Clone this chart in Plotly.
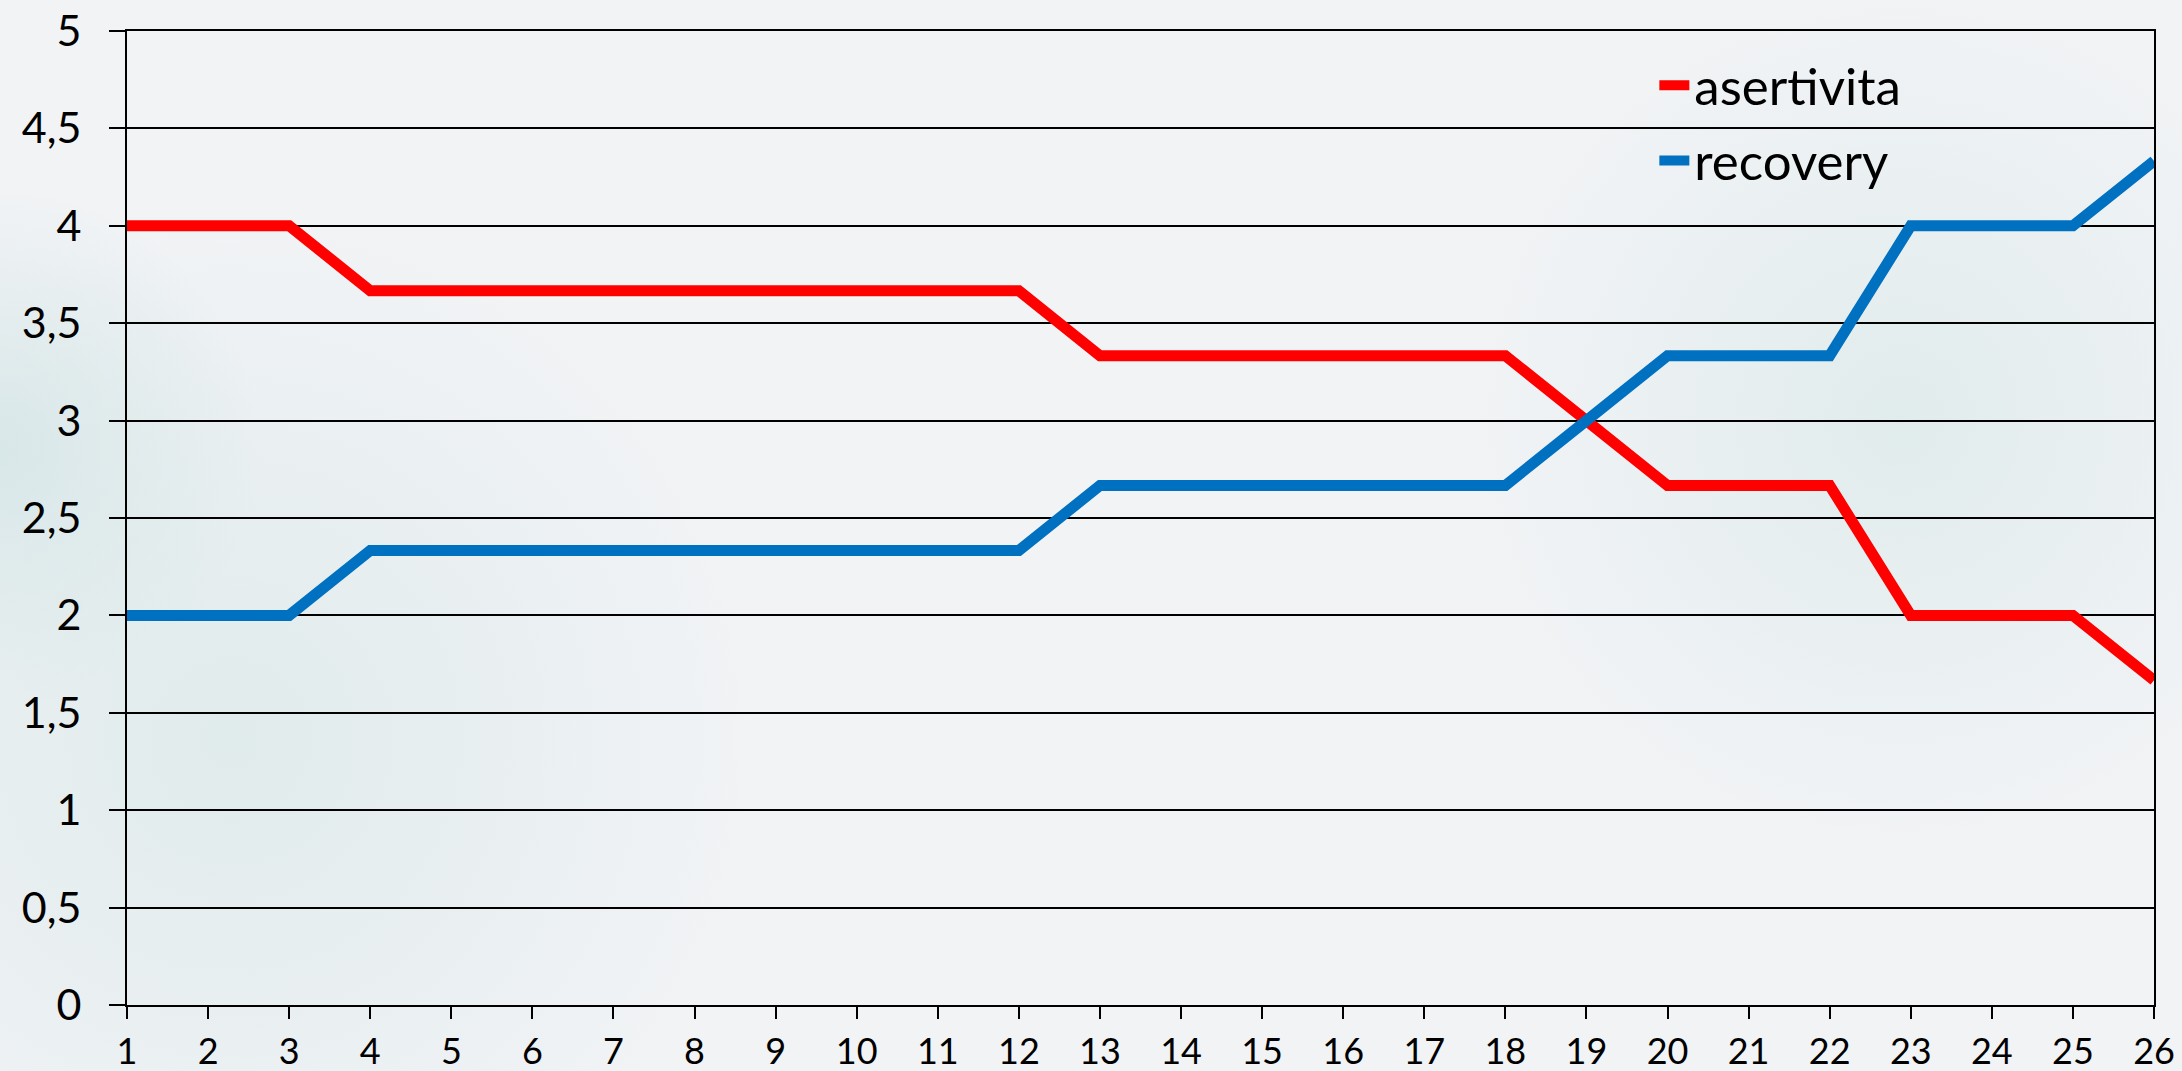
import base64
import plotly.graph_objects as go

# dati
giorni = list(range(1, 27))
asertivita = [4, 4, 4, 3.667, 3.667, 3.667, 3.667, 3.667, 3.667, 3.667, 3.667, 3.667,
              3.333, 3.333, 3.333, 3.333, 3.333, 3.333, 3, 2.667, 2.667, 2.667,
              2, 2, 2, 1.667]
recovery = [2, 2, 2, 2.333, 2.333, 2.333, 2.333, 2.333, 2.333, 2.333, 2.333, 2.333,
            2.667, 2.667, 2.667, 2.667, 2.667, 2.667, 3, 3.333, 3.333, 3.333,
            4, 4, 4, 4.333]
y_ticks = [0, 0.5, 1, 1.5, 2, 2.5, 3, 3.5, 4, 4.5, 5]

font = 'Lato, "Noto Sans", sans-serif'
W, H = 2182, 1071
ml, mr, mt, mb = 127, 28, 31, 66
pw, ph = W - ml - mr, H - mt - mb

# sfondo chiaro con aloni tenui (solo decorazione)
svg = f'''<svg xmlns="http://www.w3.org/2000/svg" width="{W}" height="{H}" viewBox="0 0 {W} {H}">
<defs>
<radialGradient id="g1" cx="230" cy="740" r="520" gradientUnits="userSpaceOnUse">
<stop offset="0" stop-color="#DCE9EA" stop-opacity="0.8"/><stop offset="1" stop-color="#DCE9EA" stop-opacity="0"/></radialGradient>
<radialGradient id="g2" cx="1900" cy="420" r="420" gradientUnits="userSpaceOnUse">
<stop offset="0" stop-color="#DFEBEC" stop-opacity="0.9"/><stop offset="1" stop-color="#DFEBEC" stop-opacity="0"/></radialGradient>
<radialGradient id="g3" cx="0" cy="450" r="260" gradientUnits="userSpaceOnUse">
<stop offset="0" stop-color="#D6E6E7" stop-opacity="0.9"/><stop offset="1" stop-color="#D6E6E7" stop-opacity="0"/></radialGradient>
</defs>
<rect width="{W}" height="{H}" fill="#F1F3F5"/>
<rect width="{W}" height="{H}" fill="url(#g1)"/>
<rect width="{W}" height="{H}" fill="url(#g2)"/>
<rect width="{W}" height="{H}" fill="url(#g3)"/>
</svg>'''
bg = 'data:image/svg+xml;base64,' + base64.b64encode(svg.encode()).decode()

fig = go.Figure(data=[
  go.Scatter(x=giorni, y=asertivita, mode='lines', name='asertivita', legendgroup='a',
             line=dict(color='#FF0000', width=11)),
  go.Scatter(x=giorni, y=recovery, mode='lines', name='recovery', legendgroup='r',
             line=dict(color='#0070C0', width=11)),
])

fig.update_layout(
  width=W, height=H,
  margin=dict(l=ml, r=mr, t=mt, b=mb),
  paper_bgcolor='#F1F3F5', plot_bgcolor='rgba(0,0,0,0)',
  separators=',.',
  font=dict(family=font, color='black'),
  images=[dict(source=bg, xref='paper', yref='paper', x=-ml / pw, y=1 + mt / ph,
               sizex=W / pw, sizey=H / ph, xanchor='left', yanchor='top',
               sizing='stretch', layer='below')],
  legend=dict(x=0.7535, y=0.985, xanchor='left', yanchor='top',
              font=dict(size=51, color='black'), bgcolor='rgba(0,0,0,0)',
              traceorder='grouped', tracegroupgap=6),
  xaxis=dict(range=[1, 26], tickvals=giorni, ticktext=[str(g) for g in giorni],
             showgrid=False, zeroline=False, showline=True, linecolor='black', linewidth=2,
             mirror=True, ticks='outside', ticklen=12, tickwidth=2, tickcolor='black',
             tickfont=dict(size=36), ticklabelstandoff=2, automargin=False),
  yaxis=dict(range=[0, 5], tickvals=y_ticks, showgrid=True, gridcolor='black', gridwidth=1.5,
             zeroline=False, showline=True, linecolor='black', linewidth=2, mirror=True,
             ticks='outside', ticklen=16, tickwidth=2, tickcolor='black',
             tickfont=dict(size=43), ticklabelstandoff=19, automargin=False),
)

# niente margine della pagina, cosi' il grafico parte da 0,0
fig.write_html("out.html", config={'displayModeBar': False},
               post_script="document.body.style.margin='0';")
